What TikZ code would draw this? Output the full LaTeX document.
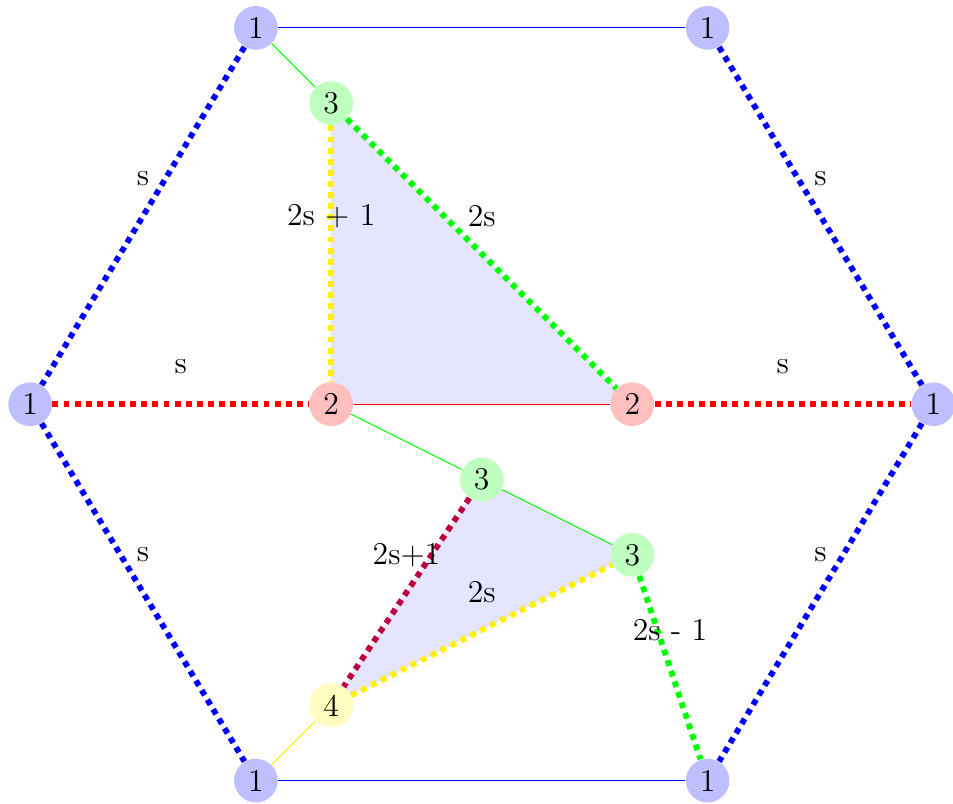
\documentclass[tikz,border=0pt]{standalone}
\usepackage{xcolor}
\usepackage{tikz}
\usetikzlibrary{backgrounds}

\begin{document}
\begin{tikzpicture}[
        font=\large,
        vertex/.style={circle, minimum size=0.58cm, inner sep=0pt},
        one/.style={vertex, fill=blue!25},
        two/.style={vertex, fill=red!25},
        three/.style={vertex, fill=green!25},
        four/.style={vertex, fill=yellow!25},
        heavy/.style={line width=2.2pt, dotted},
        lbl/.style={midway, yshift=0.5cm, text=black}
    ]

        \useasboundingbox (-0.40,-0.305) rectangle (12.26,10.37);

        % outer hexagon
        \node[one] (tl) at (3,10) {1};
        \node[one] (tr) at (9,10) {1};
        \node[one] (l) at (0,5) {1};
        \node[one] (r) at (12,5) {1};
        \node[one] (bl) at (3,0) {1};
        \node[one] (br) at (9,0) {1};

        % inner vertices
        \node[three] (top3) at (4,9) {3};
        \node[two] (left2) at (4,5) {2};
        \node[two] (right2) at (8,5) {2};
        \node[three] (mid3) at (6,4) {3};
        \node[three] (low3) at (8,3) {3};
        \node[four] (bot4) at (4,1) {4};

        \begin{scope}[on background layer]
            \fill[blue!10] (top3.center) -- (left2.center) -- (right2.center) -- cycle;
            \fill[blue!10] (mid3.center) -- (low3.center) -- (bot4.center) -- cycle;
        \end{scope}

        % thin edges
        \draw[blue] (tl) -- (tr);
        \draw[blue] (bl) -- (br);
        \draw[green] (tl) -- (top3);
        \draw[green] (left2) -- (mid3);
        \draw[green] (mid3) -- (low3);
        \draw[red] (left2) -- (right2);
        \draw[yellow] (bot4) -- (bl);

        % heavy edges
        \draw[heavy, blue] (tl) -- node[lbl] {s} (l);
        \draw[heavy, blue] (tr) -- node[lbl] {s} (r);
        \draw[heavy, blue] (l) -- node[lbl] {s} (bl);
        \draw[heavy, blue] (r) -- node[lbl] {s} (br);
        \draw[heavy, red] (l) -- node[lbl] {s} (left2);
        \draw[heavy, red] (right2) -- node[lbl] {s} (r);
        \draw[heavy, yellow] (top3) -- node[lbl] {2s + 1} (left2);
        \draw[heavy, green] (top3) -- node[lbl] {2s} (right2);
        \draw[heavy, purple] (mid3) -- node[lbl] {2s+1} (bot4);
        \draw[heavy, yellow] (bot4) -- node[lbl] {2s} (low3);
        \draw[heavy, green] (low3) -- node[lbl] {2s - 1} (br);

    \end{tikzpicture}
\end{document}
